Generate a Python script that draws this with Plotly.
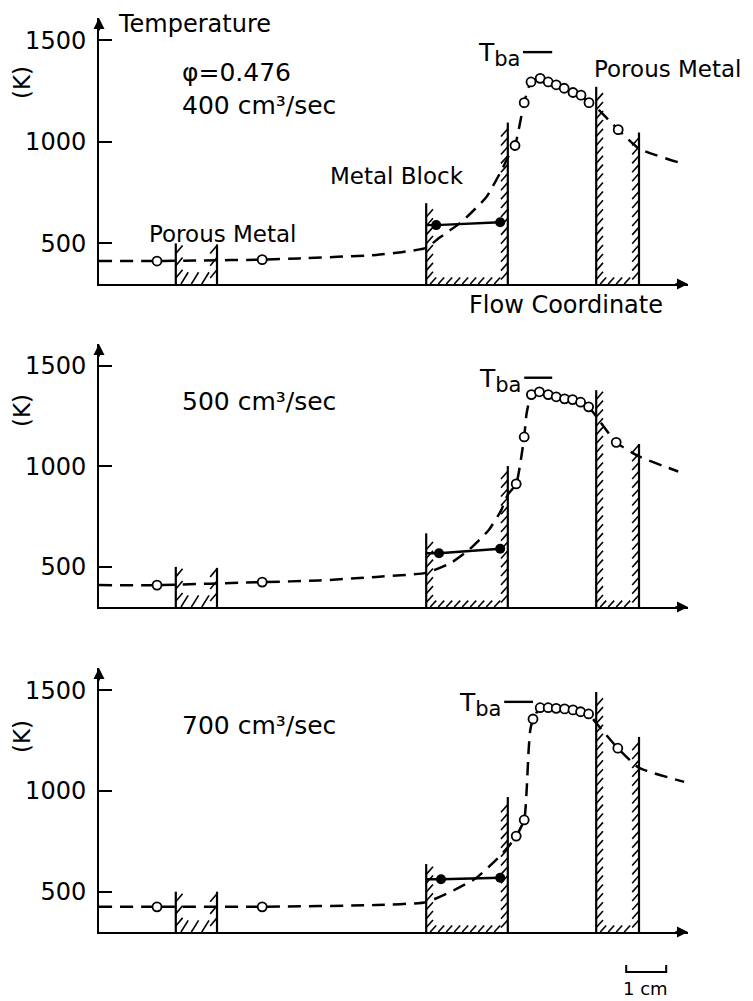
import plotly.graph_objects as go

W, H = 753, 1001

# ---------------- data ----------------
T_TICKS = [500, 1000, 1500]
T_TICK_TEXT = ["500", "1000", "1500"]
RATE_LABELS = ["400 cm³/sec", "500 cm³/sec", "700 cm³/sec"]
PHI_LABEL = "φ=0.476"

# element boundaries along the flow coordinate (cm)
INLET_POROUS_X = [1.92, 2.95]
BLOCK_X = [8.18, 10.22]
OUTLET_POROUS_X = [12.43, 13.5]

# wall heights (K): inlet L, inlet R, block L, block R, outlet L, outlet R
WALL_TOP_400 = [500, 495, 698, 1095, 1271, 1046]
WALL_TOP_500 = [500, 495, 667, 1002, 1380, 1112]
WALL_TOP_700 = [500, 500, 637, 970, 1491, 1268]

# dashed temperature profiles
DASH_X_400 = [0, 1.45, 2.5, 4.08, 5.0, 6.93, 7.6, 8.18, 8.5, 9.05, 9.68, 10.1, 10.22, 10.4,
              10.63, 10.8, 11.03, 11.23, 11.43, 11.63, 11.85, 12.05, 12.25, 12.43, 12.98, 13.5, 14.5]
DASH_T_400 = [413, 413, 416, 420, 426, 443, 458, 478, 526, 604, 727, 874, 923, 982,
              1193, 1295, 1313, 1295, 1281, 1264, 1243, 1230, 1193, 1169, 1060, 967, 898]
DASH_X_500 = [0, 1.45, 4.08, 5.5, 6.93, 8.18, 8.8, 9.25, 9.75, 10.05, 10.22, 10.43, 10.63, 10.69,
              10.81, 11.01, 11.23, 11.43, 11.64, 11.84, 12.04, 12.24, 12.43, 12.93, 13.5, 14.48]
DASH_T_500 = [409, 409, 424, 432, 450, 470, 520, 585, 685, 780, 860, 913, 1147, 1264,
              1358, 1372, 1358, 1347, 1337, 1333, 1320, 1297, 1250, 1120, 1050, 975]
DASH_X_700 = [0, 1.45, 4.08, 6.93, 8.18, 8.8, 9.43, 10.0, 10.22, 10.43, 10.63, 10.69, 10.74, 10.78,
              10.85, 11.03, 11.23, 11.43, 11.64, 11.85, 12.04, 12.24, 12.43, 12.97, 13.5, 14.63]
DASH_T_700 = [425, 425, 425, 434, 448, 500, 568, 672, 720, 776, 856, 1000, 1200, 1300,
              1357, 1413, 1413, 1410, 1407, 1402, 1393, 1382, 1337, 1212, 1115, 1045]

# measured gas temperatures (open circles)
OPEN_X_400 = [1.45, 4.08, 10.4, 10.63, 10.8, 11.03, 11.23, 11.43, 11.63, 11.85, 12.05, 12.25, 12.98]
OPEN_T_400 = [413, 420, 982, 1193, 1295, 1313, 1295, 1281, 1264, 1243, 1230, 1193, 1060]
OPEN_X_500 = [1.45, 4.08, 10.43, 10.63, 10.81, 11.01, 11.23, 11.43, 11.64, 11.84, 12.04, 12.24, 12.93]
OPEN_T_500 = [409, 424, 913, 1147, 1358, 1372, 1358, 1347, 1337, 1333, 1320, 1297, 1120]
OPEN_X_700 = [1.45, 4.08, 10.43, 10.63, 10.85, 11.03, 11.23, 11.43, 11.64, 11.85, 12.04, 12.24, 12.97]
OPEN_T_700 = [425, 425, 776, 856, 1357, 1413, 1413, 1410, 1407, 1402, 1393, 1382, 1212]

# metal block temperatures (filled circles)
SOLID_X_400 = [8.43, 10.03]
SOLID_T_400 = [590, 604]
SOLID_X_500 = [8.5, 10.03]
SOLID_T_500 = [568, 590]
SOLID_X_700 = [8.55, 10.03]
SOLID_T_700 = [562, 569]

# adiabatic flame temperature marker
TBA = 1442
TBA_X_400 = [10.6, 11.33]
TBA_X_500 = [10.63, 11.33]
TBA_X_700 = [10.13, 10.85]

PANELS = [
    dict(wall=WALL_TOP_400, dx=DASH_X_400, dt=DASH_T_400, ox=OPEN_X_400, ot=OPEN_T_400,
         sx=SOLID_X_400, st=SOLID_T_400, tba=TBA_X_400, label=RATE_LABELS[0]),
    dict(wall=WALL_TOP_500, dx=DASH_X_500, dt=DASH_T_500, ox=OPEN_X_500, ot=OPEN_T_500,
         sx=SOLID_X_500, st=SOLID_T_500, tba=TBA_X_500, label=RATE_LABELS[1]),
    dict(wall=WALL_TOP_700, dx=DASH_X_700, dt=DASH_T_700, ox=OPEN_X_700, ot=OPEN_T_700,
         sx=SOLID_X_700, st=SOLID_T_700, tba=TBA_X_700, label=RATE_LABELS[2]),
]

# ---------------- layout geometry ----------------
FONT = "DejaVu Sans"
X_LEFT_PX, X_RIGHT_PX = 99, 688
PX_PER_CM = 40.0
X_MAX = (X_RIGHT_PX - X_LEFT_PX) / PX_PER_CM
T_MIN, T_MAX = 300, 1610
# (top px, baseline px) of each panel
PANEL_PX = [(18, 284), (344, 607), (668, 932)]
K_LABEL_PX = [83, 411, 737]
RATE_LABEL_PX = [106, 402, 725]


def paper(xp, yp):
    return xp / W, 1 - yp / H


def hatch(xl, xr, tl, tr, dx, dy, step, bdx, bdy, bstep, base=T_MIN):
    xs, ys = [], []
    y = base + step * 0.5
    while y + dy <= tl:
        xs += [xl, xl + dx, None]
        ys += [y, y + dy, None]
        y += step
    y = base + step * 0.5
    while y + dy <= tr:
        xs += [xr - dx, xr, None]
        ys += [y, y + dy, None]
        y += step
    x = xl + bstep * 0.5
    while x + bdx <= xr - 0.04:
        xs += [x, x + bdx, None]
        ys += [base, base + bdy, None]
        x += bstep
    return xs, ys


fig = go.Figure()
annotations = []
shapes = []

for i, p in enumerate(PANELS):
    k = "" if i == 0 else str(i + 1)
    xa, ya = "x" + k, "y" + k
    top_px, base_px = PANEL_PX[i]
    wt = p["wall"]
    elems = [INLET_POROUS_X, BLOCK_X, OUTLET_POROUS_X]
    tops = [wt[0:2], wt[2:4], wt[4:6]]

    # walls
    wx, wy = [], []
    for (xl, xr), (tl, tr) in zip(elems, tops):
        wx += [xl, xl, None, xr, xr, None]
        wy += [T_MIN, tl, None, T_MIN, tr, None]
    fig.add_trace(go.Scatter(x=wx, y=wy, xaxis=xa, yaxis=ya, mode="lines",
                             line=dict(color="black", width=2.2), hoverinfo="skip"))
    # hatching
    hx, hy = [], []
    for (xl, xr), (tl, tr), small in zip(elems, tops, [True, False, False]):
        if small:
            a, b = hatch(xl, xr, tl, tr, 0.17, 40, 60, 0.18, 58, 0.26)
        else:
            a, b = hatch(xl, xr, tl, tr, 0.17, 38, 44, 0.15, 32, 0.2)
        hx += a
        hy += b
    fig.add_trace(go.Scatter(x=hx, y=hy, xaxis=xa, yaxis=ya, mode="lines",
                             line=dict(color="black", width=1.6), hoverinfo="skip"))
    # dashed profile
    fig.add_trace(go.Scatter(x=p["dx"], y=p["dt"], xaxis=xa, yaxis=ya, mode="lines",
                             line=dict(color="black", width=2.5, dash="13px,8px",
                                       shape="spline", smoothing=0.5),
                             hoverinfo="skip"))
    # block solid line and points
    fig.add_trace(go.Scatter(x=[BLOCK_X[0]] + p["sx"], y=[p["st"][0]] + p["st"],
                             xaxis=xa, yaxis=ya, mode="lines",
                             line=dict(color="black", width=2.4), hoverinfo="skip"))
    fig.add_trace(go.Scatter(x=p["sx"], y=p["st"], xaxis=xa, yaxis=ya, mode="markers",
                             marker=dict(symbol="circle", size=10, color="black"),
                             hoverinfo="skip"))
    # open circles
    fig.add_trace(go.Scatter(x=p["ox"], y=p["ot"], xaxis=xa, yaxis=ya, mode="markers",
                             marker=dict(symbol="circle", size=9, color="white",
                                         line=dict(color="black", width=1.8)),
                             hoverinfo="skip"))
    # Tba bar
    fig.add_trace(go.Scatter(x=p["tba"], y=[TBA, TBA], xaxis=xa, yaxis=ya, mode="lines",
                             line=dict(color="black", width=2.4), hoverinfo="skip"))
    annotations.append(dict(x=p["tba"][0], y=TBA, xref=xa, yref=ya,
                            text="T<sub><span style='font-size:21px'>ba</span></sub>",
                            showarrow=False, xanchor="right", yanchor="top", yshift=16,
                            xshift=-1, font=dict(family=FONT, size=25, color="black")))

    # axes
    x_dom = [X_LEFT_PX / W, X_RIGHT_PX / W]
    y_dom = [1 - base_px / H, 1 - top_px / H]
    fig.update_layout(**{
        ("xaxis" + k): dict(domain=x_dom, range=[0, X_MAX], anchor=ya, showline=True,
                            linecolor="black", linewidth=2, showgrid=False, zeroline=False,
                            showticklabels=False, ticks=""),
        ("yaxis" + k): dict(domain=y_dom, range=[T_MIN, T_MAX], anchor=xa, showline=True,
                            linecolor="black", linewidth=2, showgrid=False, zeroline=False,
                            tickvals=T_TICKS, ticktext=T_TICK_TEXT, ticks="inside",
                            ticklen=13, tickwidth=2, tickcolor="black",
                            ticklabelstandoff=6,
                            tickfont=dict(family=FONT, size=24, color="black")),
    })
    # axis arrows
    annotations.append(dict(x=0, y=T_MAX, xref=xa, yref=ya, ax=0, ay=14, text="",
                            showarrow=True, arrowhead=2, arrowsize=1.1, arrowwidth=2,
                            arrowcolor="black"))
    annotations.append(dict(x=X_MAX, y=T_MIN, xref=xa, yref=ya, ax=-14, ay=0, text="",
                            showarrow=True, arrowhead=2, arrowsize=1.1, arrowwidth=2,
                            arrowcolor="black"))
    # (K)
    kx, ky = paper(22, K_LABEL_PX[i])
    annotations.append(dict(x=kx, y=ky, xref="paper", yref="paper", text="(K)",
                            showarrow=False, textangle=-90, xanchor="center",
                            yanchor="middle",
                            font=dict(family=FONT, size=23, color="black")))
    # rate label
    lx, ly = paper(180, RATE_LABEL_PX[i])
    annotations.append(dict(x=lx, y=ly, xref="paper", yref="paper", text=p["label"],
                            showarrow=False, xanchor="left", yanchor="middle",
                            font=dict(family=FONT, size=25, color="black")))


def txt(text, xp, yp, size=23, xanchor="center"):
    x, y = paper(xp, yp)
    annotations.append(dict(x=x, y=y, xref="paper", yref="paper", text=text, showarrow=False,
                            xanchor=xanchor, yanchor="middle",
                            font=dict(family=FONT, size=size, color="black")))


txt("Temperature", 116, 24, size=24, xanchor="left")
txt(PHI_LABEL, 180, 73, size=25, xanchor="left")
txt("Metal Block", 397, 176)
txt("Porous Metal", 668, 69)
txt("Porous Metal", 223, 234)
txt("Flow Coordinate", 566, 305, size=24)
txt("1 cm", 645, 988, size=18)

# 1 cm scale bar (below the bottom panel)
sb0 = 13.18
ya_, yb_ = 1 - 965 / H, 1 - 972 / H
shapes.append(dict(type="path", xref="x3", yref="paper",
                   path=f"M {sb0},{ya_} L {sb0},{yb_} L {sb0 + 1},{yb_} L {sb0 + 1},{ya_}",
                   line=dict(color="black", width=2)))

fig.update_layout(width=W, height=H, margin=dict(l=0, r=0, t=0, b=0),
                  paper_bgcolor="white", plot_bgcolor="white", showlegend=False,
                  annotations=annotations, shapes=shapes)

fig.write_html("out.html")
